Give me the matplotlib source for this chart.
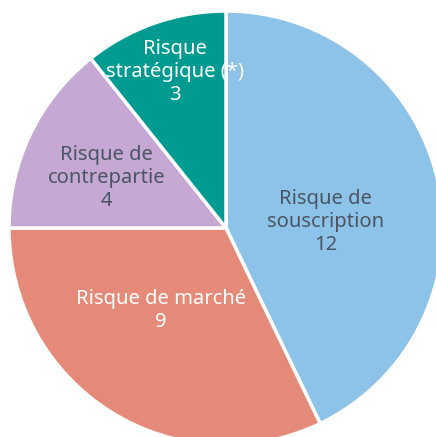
import matplotlib
matplotlib.use("Agg")
import matplotlib.pyplot as plt

# données
labels = ["Risque de\nsouscription\n12", "Risque de marché\n9",
          "Risque de\ncontrepartie\n4", "Risque\nstratégique (*)\n3"]
values = [12, 9, 4, 3]
colors = ["#8DC3E8", "#E58A78", "#C5A8D3", "#009B90"]
text_colors = ["#4A5563", "#FFFFFF", "#4A5563", "#FFFFFF"]
label_pos = [(0.46, 0.03), (-0.30, -0.38), (-0.55, 0.23), (-0.235, 0.72)]

plt.rcParams['font.family'] = ['Noto Sans', 'DejaVu Sans']

fig = plt.figure(figsize=(4.36, 4.37), dpi=100)
ax = fig.add_axes([0, 0, 1, 1])

ax.pie(values, colors=colors, startangle=90, counterclock=False,
       radius=1.0, wedgeprops=dict(edgecolor='white', linewidth=2.5))

for lab, pos, tc in zip(labels, label_pos, text_colors):
    ax.text(pos[0], pos[1], lab, ha='center', va='center', color=tc,
            fontsize=14.5, linespacing=1.2)

ax.set_xlim(-1.0415, 0.9677)
ax.set_ylim(-0.963, 1.0507)
ax.set_aspect('auto')
ax.axis('off')

fig.savefig("out.png", dpi=100)
